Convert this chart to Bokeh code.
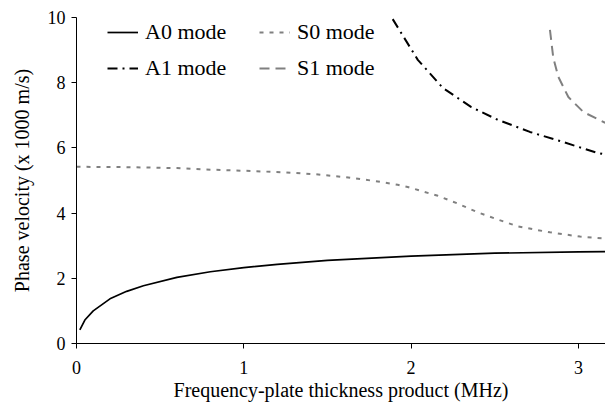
from bokeh.plotting import figure
from bokeh.models import Range1d, Legend, LegendItem, FixedTicker
from bokeh.embed import file_html
from bokeh.resources import INLINE

# Data
a0_x = [0.02, 0.05, 0.1, 0.2, 0.3, 0.4, 0.6, 0.8, 1.0, 1.2, 1.5, 2.0, 2.5, 3.0, 3.16]
a0_y = [0.42, 0.72, 1.0, 1.37, 1.6, 1.77, 2.03, 2.2, 2.33, 2.43, 2.55, 2.68, 2.77, 2.81, 2.82]

s0_x = [0.0, 0.3, 0.6, 0.76, 0.94, 1.25, 1.43, 1.61, 1.79, 1.92, 1.98, 2.16, 2.28, 2.40, 2.52, 2.64, 2.83, 3.01, 3.16]
s0_y = [5.42, 5.41, 5.38, 5.34, 5.31, 5.25, 5.19, 5.10, 4.98, 4.87, 4.80, 4.53, 4.29, 4.02, 3.80, 3.59, 3.41, 3.28, 3.22]

a1_x = [1.89, 2.04, 2.19, 2.36, 2.51, 2.71, 2.91, 3.11, 3.16]
a1_y = [9.95, 8.7, 7.84, 7.25, 6.88, 6.49, 6.18, 5.85, 5.80]

s1_x = [2.83, 2.85, 2.88, 2.94, 3.03, 3.16]
s1_y = [9.62, 8.76, 8.18, 7.56, 7.10, 6.77]

x_ticks = [0, 1, 2, 3]
y_ticks = [0, 2, 4, 6, 8, 10]

FONT = "Liberation Serif"

p = figure(width=605, height=410, output_backend="svg", toolbar_location=None,
           x_range=Range1d(0, 3.162), y_range=Range1d(0, 10),
           min_border_left=76, min_border_right=0, min_border_top=17, min_border_bottom=67)
p.outline_line_color = None
p.xgrid.visible = False
p.ygrid.visible = False

r_a0 = p.line(a0_x, a0_y, line_color="black", line_width=1.7)
r_s0 = p.line(s0_x, s0_y, line_color="#808080", line_width=2, line_dash="4 6")
r_a1 = p.line(a1_x, a1_y, line_color="black", line_width=2, line_dash="10 5 2 5")
r_s1 = p.line(s1_x, s1_y, line_color="#808080", line_width=2, line_dash="10 6")

for ax in (p.xaxis[0], p.yaxis[0]):
    ax.axis_line_color = "black"
    ax.axis_line_width = 1
    ax.major_tick_line_color = "black"
    ax.major_tick_in = 0
    ax.major_tick_out = 5
    ax.minor_tick_line_color = None
    ax.major_label_text_font = FONT
    ax.major_label_text_font_size = "18px"
    ax.major_label_text_color = "black"
    ax.axis_label_text_font = FONT
    ax.axis_label_text_font_size = "20px"
    ax.axis_label_text_font_style = "normal"
    ax.axis_label_text_color = "black"

p.xaxis.ticker = FixedTicker(ticks=x_ticks)
p.yaxis.ticker = FixedTicker(ticks=y_ticks)
p.xaxis.axis_label = "Frequency-plate thickness product (MHz)"
p.yaxis.axis_label = "Phase velocity (x 1000 m/s)"
p.xaxis.major_label_standoff = 12
p.yaxis.major_label_standoff = 6
p.xaxis.axis_label_standoff = 2
p.yaxis.axis_label_standoff = 12


def make_legend(items, loc):
    lg = Legend(items=items, location=loc, orientation="vertical",
                border_line_color=None, background_fill_alpha=0,
                padding=0, margin=0, spacing=10,
                glyph_width=31, glyph_height=26, label_height=26,
                label_standoff=7,
                label_text_font=FONT, label_text_font_size="22px",
                label_text_color="black")
    return lg


leg1 = make_legend([LegendItem(label="A0 mode", renderers=[r_a0]),
                    LegendItem(label="A1 mode", renderers=[r_a1])], (31, 262))
leg2 = make_legend([LegendItem(label="S0 mode", renderers=[r_s0]),
                    LegendItem(label="S1 mode", renderers=[r_s1])], (183, 262))
p.add_layout(leg1, "center")
p.add_layout(leg2, "center")

open("out.html", "w").write(file_html(p, INLINE))
